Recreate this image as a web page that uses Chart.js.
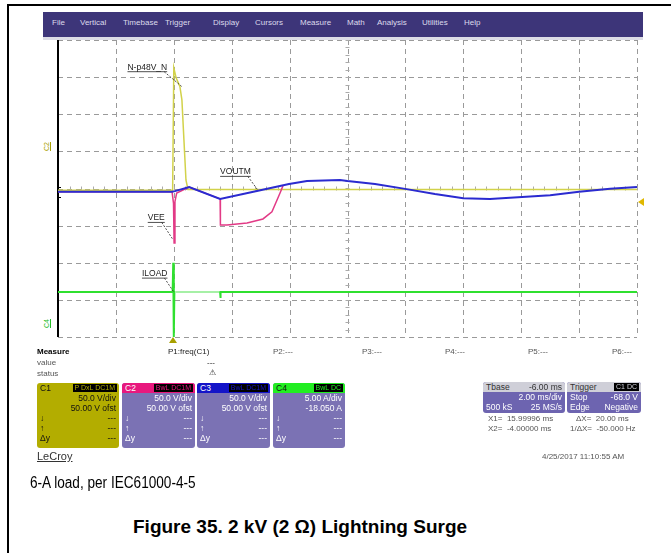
<!DOCTYPE html>
<html>
<head>
<meta charset="utf-8">
<script src="https://cdn.jsdelivr.net/npm/chart.js@4.4.1/dist/chart.umd.min.js"></script>
<style>
  body { margin: 0; width: 671px; height: 553px; background: #fff; position: relative; overflow: hidden;
         font-family: "Liberation Sans", Arial, sans-serif; }
  .abs { position: absolute; }
  .menu { left: 43px; top: 12px; width: 600px; height: 25px; background: #3d3579; }
  .menu span { position: absolute; top: 6px; color: #dcdaec; font-size: 8px; }
  .band { left: 43px; top: 37px; width: 600px; height: 3px; background: #dcdce6; }
  .small { font-size: 8px; color: #555; white-space: nowrap; }
  .box { border-radius: 3px; overflow: hidden; font-size: 8.5px; color: #fff; }
  .box .hd { height: 10px; line-height: 10px; position: relative; padding-left: 3px; }
  .box .tag { position: absolute; right: 2px; top: 1px; height: 8px; line-height: 8px; background: #000;
              padding: 0 2px; font-size: 7px; }
  .box .row { height: 10px; line-height: 10px; position: relative; padding: 0 3px; white-space: nowrap; }
  .box .r { position: absolute; right: 3px; }
</style>
</head>
<body>
<!-- page frame -->
<div class="abs" style="left:7px;top:4px;right:0;height:2px;background:#000"></div>
<div class="abs" style="left:7px;top:4px;bottom:0;width:2px;background:#000"></div>

<!-- scope menu bar -->
<div class="abs menu">
  <span style="left:9px">File</span>
  <span style="left:37px">Vertical</span>
  <span style="left:80px">Timebase</span>
  <span style="left:122px">Trigger</span>
  <span style="left:170px">Display</span>
  <span style="left:212px">Cursors</span>
  <span style="left:257px">Measure</span>
  <span style="left:304px">Math</span>
  <span style="left:334px">Analysis</span>
  <span style="left:379px">Utilities</span>
  <span style="left:421px">Help</span>
</div>
<div class="abs band"></div>

<canvas id="scope" class="abs" width="587" height="305" style="left:54px;top:36px"></canvas>

<!-- channel offset markers -->
<div class="abs small" style="left:42px;top:143px;color:#a8a000;transform:rotate(-90deg);font-size:7px;text-decoration:underline">C2</div>
<div class="abs small" style="left:42px;top:320px;color:#22bb22;transform:rotate(-90deg);font-size:7px;text-decoration:underline">C4</div>
<div class="abs" style="left:57px;top:187px;width:3px;height:9px;border:1px solid #000;border-right:none"></div>
<div class="abs" style="left:638px;top:198px;width:0;height:0;border-top:4px solid transparent;border-bottom:4px solid transparent;border-right:6px solid #e0b800"></div>
<div class="abs" style="left:169px;top:337px;width:0;height:0;border-left:4px solid transparent;border-right:4px solid transparent;border-bottom:6px solid #a8a000"></div>

<!-- measure table -->
<div class="abs small" style="left:37px;top:347px;color:#000;font-weight:bold">Measure</div>
<div class="abs small" style="left:168px;top:347px;color:#222">P1:freq(C1)</div>
<div class="abs small" style="left:273px;top:347px">P2:---</div>
<div class="abs small" style="left:362px;top:347px">P3:---</div>
<div class="abs small" style="left:445px;top:347px">P4:---</div>
<div class="abs small" style="left:528px;top:347px">P5:---</div>
<div class="abs small" style="left:612px;top:347px">P6:---</div>
<div class="abs small" style="left:37px;top:358px">value</div>
<div class="abs small" style="left:37px;top:369px">status</div>
<div class="abs small" style="left:207px;top:358px;color:#222">---</div>
<div class="abs small" style="left:209px;top:368px;color:#222">&#9888;</div>

<!-- channel descriptor boxes -->
<div class="abs box" style="left:37px;top:383px;width:82px;height:65px;background:#b3ad00;color:#111">
  <div class="hd">C1<span class="tag" style="color:#b3ad00">P DxL DC1M</span></div>
  <div class="row"><span class="r">50.0 V/div</span></div>
  <div class="row"><span class="r">50.00 V ofst</span></div>
  <div class="row">&#8595;<span class="r">---</span></div>
  <div class="row">&#8593;<span class="r">---</span></div>
  <div class="row">&#916;y<span class="r">---</span></div>
</div>
<div class="abs box" style="left:122px;top:383px;width:73px;height:65px;background:#7b72b4">
  <div class="hd" style="background:#e8187e">C2<span class="tag" style="color:#e8187e">BwL DC1M</span></div>
  <div class="row"><span class="r">50.0 V/div</span></div>
  <div class="row"><span class="r">50.00 V ofst</span></div>
  <div class="row">&#8595;<span class="r">---</span></div>
  <div class="row">&#8593;<span class="r">---</span></div>
  <div class="row">&#916;y<span class="r">---</span></div>
</div>
<div class="abs box" style="left:197px;top:383px;width:73px;height:65px;background:#7b72b4">
  <div class="hd" style="background:#1414c8">C3<span class="tag" style="color:#1414c8">BwL DC1M</span></div>
  <div class="row"><span class="r">50.0 V/div</span></div>
  <div class="row"><span class="r">50.00 V ofst</span></div>
  <div class="row">&#8595;<span class="r">---</span></div>
  <div class="row">&#8593;<span class="r">---</span></div>
  <div class="row">&#916;y<span class="r">---</span></div>
</div>
<div class="abs box" style="left:273px;top:383px;width:72px;height:65px;background:#7b72b4">
  <div class="hd" style="background:#22ee22;color:#111">C4<span class="tag" style="color:#22ee22">BwL DC</span></div>
  <div class="row"><span class="r">5.00 A/div</span></div>
  <div class="row"><span class="r">-18.050 A</span></div>
  <div class="row">&#8595;<span class="r">---</span></div>
  <div class="row">&#8593;<span class="r">---</span></div>
  <div class="row">&#916;y<span class="r">---</span></div>
</div>

<!-- timebase / trigger boxes -->
<div class="abs box" style="left:483px;top:382px;width:82px;height:31px;background:#6d64b0">
  <div class="hd" style="background:#cfcfd8;color:#333">Tbase<span class="r" style="right:3px;position:absolute">-6.00 ms</span></div>
  <div class="row"><span class="r">2.00 ms/div</span></div>
  <div class="row">500 kS<span class="r">25 MS/s</span></div>
</div>
<div class="abs box" style="left:567px;top:382px;width:74px;height:31px;background:#6d64b0">
  <div class="hd" style="background:#cfcfd8;color:#333">Trigger<span class="tag" style="color:#cfcfd8">C1 DC</span></div>
  <div class="row">Stop<span class="r">-68.0 V</span></div>
  <div class="row">Edge<span class="r">Negative</span></div>
</div>
<div class="abs small" style="left:488px;top:414px">X1=&nbsp; 15.99996 ms</div>
<div class="abs small" style="left:576px;top:414px">&#916;X=&nbsp; 20.00 ms</div>
<div class="abs small" style="left:488px;top:424px">X2=&nbsp; -4.00000 ms</div>
<div class="abs small" style="left:570px;top:424px">1/&#916;X=&nbsp; -50.000 Hz</div>
<div class="abs small" style="left:542px;top:452px">4/25/2017 11:10:55 AM</div>

<div class="abs" style="left:37px;top:450px;font-size:11px;color:#333;text-decoration:underline">LeCroy</div>

<div class="abs" style="left:30px;top:474px;font-size:16px;color:#000;transform:scaleX(0.85);transform-origin:0 0;white-space:nowrap">6-A load, per IEC61000-4-5</div>
<div class="abs" style="left:133px;top:516px;font-size:19px;font-weight:bold;color:#000;white-space:nowrap">Figure 35. 2 kV (2 &#937;) Lightning Surge</div>

<script>
// time axis in ms (2 ms/div), vertical axis in divisions
const xTicks = [-4, 16, 2];
const yTicks = [-4, 4, 1];

// C3 VOUTM (blue)
const voutmT = [-4, -0.06, 0.04, 0.53, 1.6, 2.87, 3.98, 4.6, 5.74, 6.0, 6.95, 7.99, 9.02, 10.0, 10.92, 12.03, 13.0, 14.0, 15.07, 16.0];
const voutmV = [-0.09, -0.09, -0.07, 0.04, -0.28, -0.07, 0.12, 0.2, 0.23, 0.2, 0.12, -0.01, -0.15, -0.26, -0.28, -0.23, -0.18, -0.09, -0.01, 0.04];

// C2 VEE (magenta)
const veeT = [-4, -0.06, -0.01, 0.01, 0.04, 0.1, 0.53, 1.6, 1.61, 1.67, 1.84, 2.53, 3.08, 3.39, 3.67, 3.77];
const veeV = [-0.09, -0.09, -0.4, -1.47, -0.35, -0.12, 0.04, -0.28, -0.98, -0.98, -0.98, -0.93, -0.82, -0.63, -0.12, 0.07];

// C1 N-p48V_N (yellow)
const vinT = [-4, -0.04, 0.0, 0.08, 0.21, 0.28, 0.35, 0.42, 0.49, 16];
const vinV = [-0.05, -0.05, 3.25, 2.98, 2.75, 2.39, 1.31, 0.23, -0.03, -0.03];

// C4 ILOAD (green)
const iloadT = [-4, -0.04, -0.02, 0.0, 0.02, 0.05, 1.6, 1.61, 1.62, 16];
const iloadV = [-2.79, -2.79, -2.0, -4.0, -2.79, -2.79, -2.79, -2.95, -2.79, -2.79];

// trace labels: text, label anchor (t, v), leader end (t, v)
const noteText = ['N-p48V_N', 'VOUTM', 'VEE', 'ILOAD'];
const noteT = [-1.6, 1.6, -0.9, -1.1];
const noteV = [3.2, 0.38, -0.86, -2.36];
const noteEndT = [0.27, 2.9, -0.05, 0.0];
const noteEndV = [2.75, -0.04, -1.35, -2.79];

const pts = (t, v) => t.map((x, i) => ({ x: x, y: v[i] }));

const scopeDecor = {
  id: 'scopeDecor',
  beforeDatasetsDraw(chart) {
    const { ctx, chartArea: a, scales: { x, y } } = chart;
    ctx.save();
    // dashed graticule from the scale ticks
    ctx.strokeStyle = '#9a9a9a';
    ctx.lineWidth = 1;
    ctx.setLineDash([5, 4]);
    x.ticks.forEach(tk => {
      const px = Math.round(x.getPixelForValue(tk.value)) + 0.5;
      ctx.beginPath(); ctx.moveTo(px, a.top); ctx.lineTo(px, a.bottom); ctx.stroke();
    });
    y.ticks.forEach(tk => {
      const py = Math.round(y.getPixelForValue(tk.value)) + 0.5;
      ctx.beginPath(); ctx.moveTo(a.left, py); ctx.lineTo(a.right, py); ctx.stroke();
    });
    ctx.setLineDash([]);
    // minor ticks on the centre axes
    ctx.strokeStyle = '#aaa';
    const y0 = y.getPixelForValue(0);
    for (let t = -4; t <= 16.001; t += 0.4) {
      const px = Math.round(x.getPixelForValue(t)) + 0.5;
      ctx.beginPath(); ctx.moveTo(px, y0 - 2); ctx.lineTo(px, y0 + 2); ctx.stroke();
    }
    const x0 = x.getPixelForValue(6);
    for (let v = -4; v <= 4.001; v += 0.2) {
      const py = Math.round(y.getPixelForValue(v)) + 0.5;
      ctx.beginPath(); ctx.moveTo(x0 - 2, py); ctx.lineTo(x0 + 2, py); ctx.stroke();
    }
    // solid left edge
    ctx.strokeStyle = '#000';
    ctx.lineWidth = 2;
    ctx.beginPath(); ctx.moveTo(a.left, a.top); ctx.lineTo(a.left, a.bottom); ctx.stroke();
    ctx.restore();
  },
  afterDatasetsDraw(chart) {
    const { ctx, scales: { x, y } } = chart;
    ctx.save();
    ctx.font = '8.5px "Liberation Sans", Arial, sans-serif';
    ctx.fillStyle = '#222';
    ctx.strokeStyle = '#222';
    noteText.forEach((txt, i) => {
      const lx = x.getPixelForValue(noteT[i]);
      const ly = y.getPixelForValue(noteV[i]);
      const w = ctx.measureText(txt).width;
      ctx.fillText(txt, lx, ly);
      ctx.lineWidth = 0.8;
      ctx.setLineDash([]);
      ctx.beginPath(); ctx.moveTo(lx, ly + 2); ctx.lineTo(lx + w, ly + 2); ctx.stroke();
      ctx.setLineDash([2, 1.5]);
      ctx.beginPath();
      ctx.moveTo(lx + w - 3, ly + 2);
      ctx.lineTo(x.getPixelForValue(noteEndT[i]), y.getPixelForValue(noteEndV[i]));
      ctx.stroke();
    });
    ctx.restore();
  }
};

new Chart(document.getElementById('scope'), {
  type: 'line',
  data: {
    datasets: [
      { label: 'VOUTM', data: pts(voutmT, voutmV), borderColor: '#2b2bd0', borderWidth: 2 },
      { label: 'VEE', data: pts(veeT, veeV), borderColor: '#e23a86', borderWidth: 1.5 },
      { label: 'N-p48V_N', data: pts(vinT, vinV), borderColor: '#d2d24a', borderWidth: 1.5 },
      { label: 'ILOAD', data: pts(iloadT, iloadV), borderColor: '#2fe02f', borderWidth: 2,
        segment: { borderColor: c => (c.p0.parsed.x >= 0.05 && c.p1.parsed.x <= 1.6 ? '#a6f0a6' : undefined) } }
    ]
  },
  options: {
    responsive: false,
    animation: false,
    layout: { padding: 4 },
    elements: { point: { radius: 0 }, line: { tension: 0 } },
    plugins: { legend: { display: false }, tooltip: { enabled: false } },
    scales: {
      x: {
        type: 'linear', display: false, min: xTicks[0], max: xTicks[1],
        ticks: { stepSize: xTicks[2] }
      },
      y: {
        type: 'linear', display: false, min: yTicks[0], max: yTicks[1],
        ticks: { stepSize: yTicks[2] }
      }
    }
  },
  plugins: [scopeDecor]
});
</script>
</body>
</html>
